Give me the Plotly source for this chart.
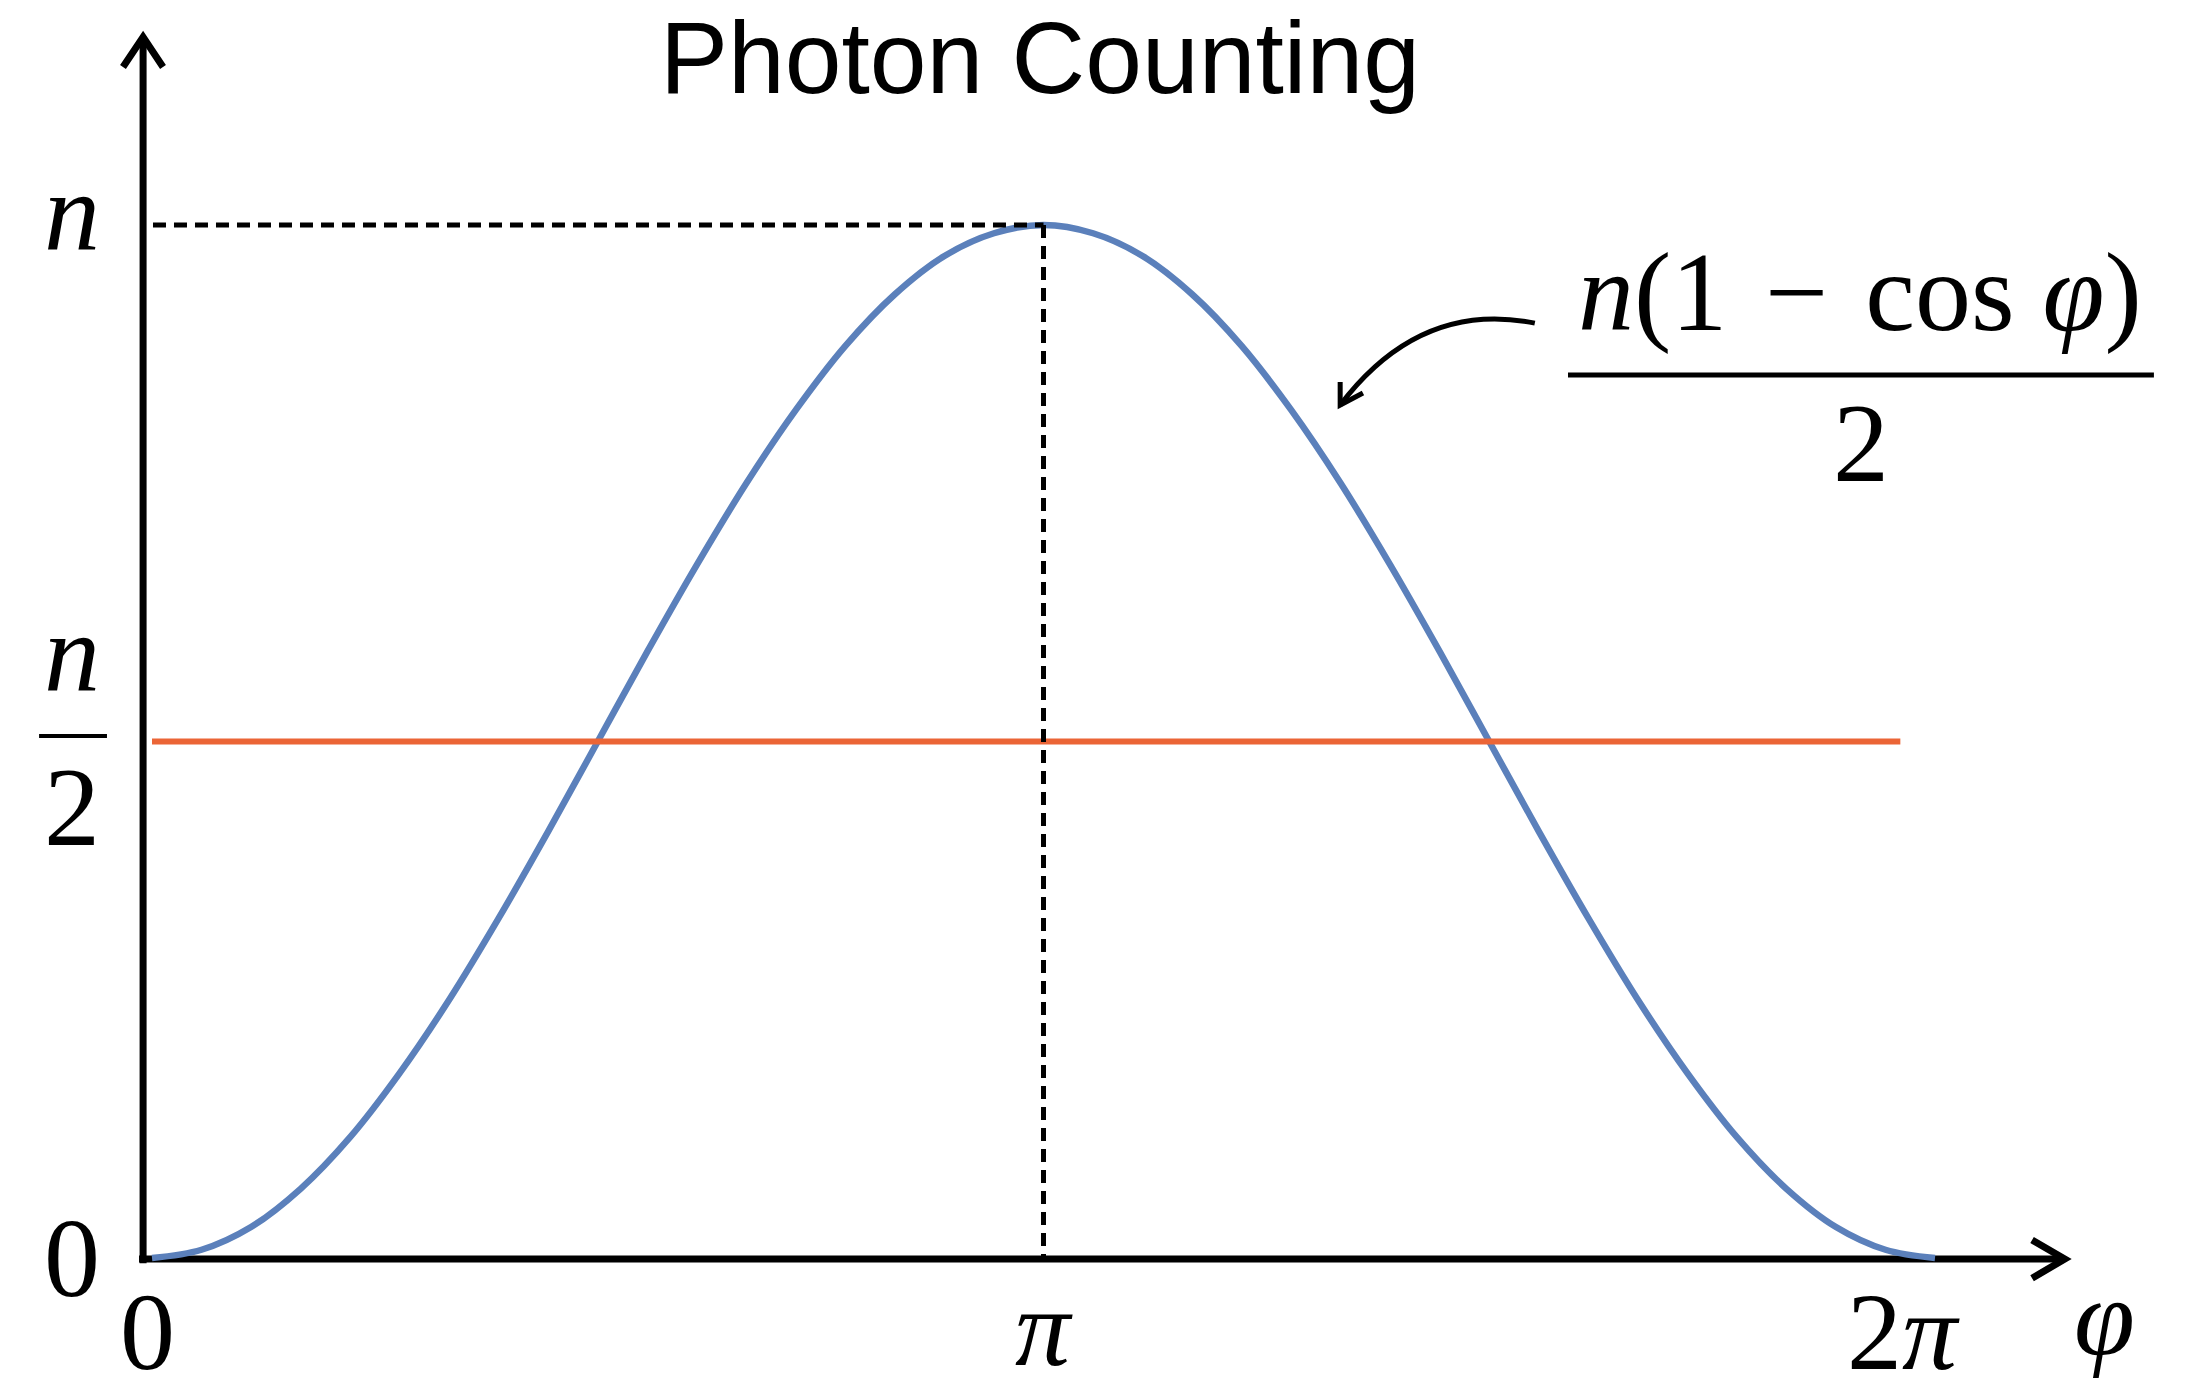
import plotly.graph_objects as go

# Phase samples in degrees and the detected photon number in units of n,
# following n(1 - cos φ)/2
phase_deg = [0, 10, 20, 30, 40, 50, 60, 70, 80, 90, 100, 110, 120,
             130, 140, 150, 160, 170, 180, 190, 200, 210, 220, 230, 240,
             250, 260, 270, 280, 290, 300, 310, 320, 330, 340, 350, 360]
counts = [0.000, 0.008, 0.030, 0.067, 0.117, 0.179, 0.250, 0.329, 0.413,
          0.500, 0.587, 0.671, 0.750, 0.821, 0.883, 0.933, 0.970, 0.992,
          1.000, 0.992, 0.970, 0.933, 0.883, 0.821, 0.750, 0.671, 0.587,
          0.500, 0.413, 0.329, 0.250, 0.179, 0.117, 0.067, 0.030, 0.008,
          0.000]

# Mean count level n/2
threshold_phase = [0, 353]
threshold_level = [0.5, 0.5]

# Axis tick labels
x_tick_vals = [0, 180, 360]
x_tick_text = ["0", "π", "2π"]
y_tick_vals = [0, 0.5, 1]

BLUE = "#5B80BB"
ORANGE = "#EB6536"
SERIF = "Liberation Serif"
SANS = "Liberation Sans"
TICK_SIZE = 112

X_RANGE = [-30.69, 414.11]
Y_RANGE = [-0.1355, 1.2178]

peak = max(counts)
peak_phase = phase_deg[counts.index(peak)]

fig = go.Figure()

fig.add_trace(go.Scatter(
    x=phase_deg, y=counts, mode="lines",
    line=dict(color=BLUE, width=6.5, shape="spline", smoothing=1.0),
    hoverinfo="skip", showlegend=False,
))
fig.add_trace(go.Scatter(
    x=threshold_phase, y=threshold_level, mode="lines",
    line=dict(color=ORANGE, width=6),
    hoverinfo="skip", showlegend=False,
))

shapes = []
black = dict(color="black", width=7)

# Axes with open arrowheads
y_axis_x = -1.8
x_axis_y = -0.001
shapes.append(dict(type="line", xref="x", yref="y", x0=y_axis_x, x1=y_axis_x,
                   y0=-0.005, y1=1.18, line=black, layer="below"))
shapes.append(dict(type="path", xref="x", yref="y",
                   path=f"M -5.86,1.153 L {y_axis_x},1.182 L 2.22,1.153",
                   line=black, layer="below"))
shapes.append(dict(type="line", xref="x", yref="y", x0=-2.62, x1=386.0,
                   y0=x_axis_y, y1=x_axis_y, line=black, layer="below"))
shapes.append(dict(type="path", xref="x", yref="y",
                   path=f"M 379.6,0.0175 L 386.2,{x_axis_y} L 379.6,-0.0195",
                   line=black, layer="below"))

# Dashed guides to the maximum
dash = dict(color="black", width=5, dash="13px,8px")
shapes.append(dict(type="line", xref="x", yref="y", x0=0.2, x1=peak_phase,
                   y0=peak, y1=peak, line=dash))
shapes.append(dict(type="line", xref="x", yref="y", x0=peak_phase, x1=peak_phase,
                   y0=peak, y1=0, line=dash))

# Fraction bars
shapes.append(dict(type="line", xref="x", yref="y", x0=-22.8, x1=-9.09,
                   y0=0.5053, y1=0.5053, line=dict(color="black", width=4)))
shapes.append(dict(type="line", xref="x", yref="y", x0=285.9, x1=404.2,
                   y0=0.8548, y1=0.8548, line=dict(color="black", width=5)))

# Curved pointer from the formula to the curve
arrow = dict(color="black", width=5)
shapes.append(dict(type="path", xref="x", yref="y",
                   path="M 279.2,0.905 Q 256.0,0.9274 239.9,0.8257", line=arrow))
shapes.append(dict(type="path", xref="x", yref="y",
                   path="M 239.9,0.848 L 239.9,0.8257 L 244.5,0.8374", line=arrow))

tick_font = dict(family=SERIF, size=TICK_SIZE, color="black")
x_tick_font = dict(family=SERIF, size=110, color="black")
annotations = []

def label(text, x, y, xshift=0, yshift=0, font=tick_font, xref="x", yref="y"):
    annotations.append(dict(text=text, x=x, y=y, xref=xref, yref=yref,
                            xanchor="center", yanchor="middle",
                            xshift=xshift, yshift=yshift, showarrow=False,
                            borderpad=0, font=font))

# y tick labels
y_label_x = -16.15
label(x_tick_text[0], y_label_x, y_tick_vals[0])
label("<i>n</i>", y_label_x, y_tick_vals[1], yshift=89)
label("2", y_label_x, y_tick_vals[1], yshift=-65)
label("<i>n</i>", y_label_x, y_tick_vals[2], yshift=12.5)

# x tick labels
x_label_shift = -74
label(x_tick_text[0], x_tick_vals[0], 0, xshift=-5, yshift=x_label_shift,
      font=x_tick_font)
label("<i>π</i>", x_tick_vals[1], 0, yshift=x_label_shift + 4, font=x_tick_font)
label("2<i>π</i>", x_tick_vals[2], 0, xshift=-32, yshift=x_label_shift,
      font=x_tick_font)
label("<i>φ</i>", 394.3, 0, yshift=x_label_shift + 14, font=x_tick_font)

# Formula label
formula_font = dict(family=SERIF, size=112, color="black")
label("<i>n</i>(1\u2004−\u2004cos <i>φ</i>)", 344.9, 0.9356, font=formula_font)
label("2", 345.1, 0.7894, font=formula_font)

# Title
label("Photon Counting", 0.4721, 0.9583, xref="paper", yref="paper",
      font=dict(family=SANS, size=102, color="black"))

fig.update_layout(
    width=2203, height=1398,
    margin=dict(l=0, r=0, t=0, b=0),
    paper_bgcolor="white", plot_bgcolor="white",
    xaxis=dict(range=X_RANGE, visible=False, fixedrange=True),
    yaxis=dict(range=Y_RANGE, visible=False, fixedrange=True),
    shapes=shapes, annotations=annotations,
    showlegend=False,
)

fig.write_html("out.html", config={"displayModeBar": False})
